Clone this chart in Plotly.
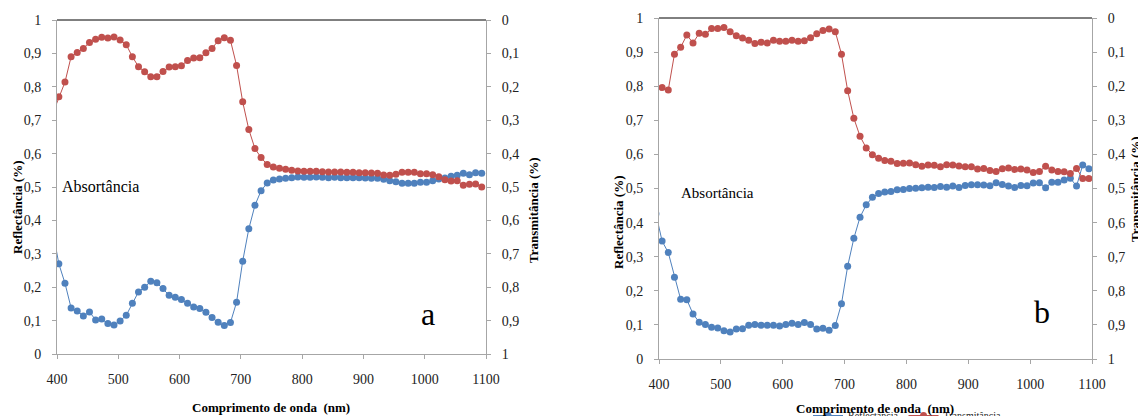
import plotly.graph_objects as go

# ---------------- data ----------------
wl_a = [393, 403, 413, 423, 433, 443, 453, 463, 473, 483, 493, 503, 513, 523, 533, 543, 553, 563,
        573, 583, 593, 603, 613, 623, 633, 643, 653, 663, 673, 683, 693, 703, 713, 723, 733, 743,
        753, 763, 773, 783, 793, 803, 813, 823, 833, 843, 853, 863, 873, 883, 893, 903, 913, 923,
        933, 943, 953, 963, 973, 983, 993, 1003, 1013, 1023, 1033, 1043, 1053, 1063, 1073, 1083, 1093]
refl_a = [0.37, 0.270, 0.212, 0.138, 0.129, 0.114, 0.126, 0.102, 0.105, 0.091, 0.087, 0.099, 0.116,
          0.152, 0.186, 0.200, 0.218, 0.213, 0.196, 0.176, 0.170, 0.163, 0.152, 0.141, 0.136, 0.125,
          0.109, 0.095, 0.085, 0.094, 0.155, 0.278, 0.375, 0.445, 0.489, 0.512, 0.521, 0.524, 0.526,
          0.528, 0.530, 0.529, 0.529, 0.530, 0.529, 0.528, 0.529, 0.528, 0.528, 0.528, 0.528, 0.527,
          0.526, 0.526, 0.523, 0.519, 0.516, 0.511, 0.511, 0.511, 0.514, 0.514, 0.519, 0.524, 0.527,
          0.532, 0.535, 0.541, 0.537, 0.543, 0.541]
trans_a = [0.28, 0.230, 0.186, 0.110, 0.097, 0.085, 0.067, 0.058, 0.052, 0.054, 0.051, 0.060, 0.074,
           0.110, 0.140, 0.155, 0.170, 0.170, 0.154, 0.141, 0.140, 0.137, 0.121, 0.114, 0.113, 0.098,
           0.085, 0.062, 0.053, 0.061, 0.136, 0.245, 0.328, 0.385, 0.412, 0.433, 0.440, 0.444, 0.447,
           0.450, 0.452, 0.453, 0.453, 0.453, 0.454, 0.455, 0.455, 0.455, 0.456, 0.456, 0.457, 0.457,
           0.458, 0.459, 0.464, 0.465, 0.462, 0.456, 0.456, 0.456, 0.460, 0.460, 0.463, 0.469, 0.478,
           0.482, 0.481, 0.495, 0.492, 0.491, 0.500]

wl_b = [395, 405, 415, 425, 435, 445, 455, 465, 475, 485, 495, 505, 515, 525, 535, 545, 555, 565,
        575, 585, 595, 605, 615, 625, 635, 645, 655, 665, 675, 685, 695, 705, 715, 725, 735, 745,
        755, 765, 775, 785, 795, 805, 815, 825, 835, 845, 855, 865, 875, 885, 895, 905, 915, 925,
        935, 945, 955, 965, 975, 985, 995, 1005, 1015, 1025, 1035, 1045, 1055, 1065, 1075, 1085, 1095]
refl_b = [0.426, 0.346, 0.312, 0.240, 0.175, 0.174, 0.132, 0.108, 0.101, 0.093, 0.091, 0.083, 0.079,
          0.088, 0.089, 0.099, 0.101, 0.099, 0.099, 0.099, 0.097, 0.101, 0.105, 0.101, 0.107, 0.101,
          0.088, 0.090, 0.084, 0.098, 0.162, 0.272, 0.354, 0.416, 0.452, 0.474, 0.485, 0.490, 0.491,
          0.496, 0.497, 0.500, 0.501, 0.502, 0.504, 0.503, 0.506, 0.504, 0.507, 0.503, 0.509, 0.511,
          0.511, 0.510, 0.508, 0.517, 0.512, 0.507, 0.503, 0.509, 0.508, 0.516, 0.517, 0.502, 0.518,
          0.518, 0.525, 0.530, 0.507, 0.569, 0.558]
trans_b = [0.204, 0.204, 0.211, 0.106, 0.086, 0.050, 0.073, 0.045, 0.048, 0.031, 0.031, 0.028, 0.040,
           0.052, 0.059, 0.065, 0.075, 0.071, 0.073, 0.065, 0.068, 0.068, 0.065, 0.068, 0.067, 0.058,
           0.046, 0.037, 0.032, 0.040, 0.106, 0.213, 0.294, 0.347, 0.381, 0.401, 0.411, 0.418, 0.420,
           0.427, 0.426, 0.425, 0.430, 0.435, 0.431, 0.432, 0.436, 0.430, 0.431, 0.434, 0.436, 0.436,
           0.443, 0.441, 0.447, 0.450, 0.442, 0.440, 0.444, 0.443, 0.446, 0.453, 0.450, 0.435, 0.446,
           0.450, 0.451, 0.456, 0.441, 0.471, 0.471]

y_ticks = [0, 0.1, 0.2, 0.3, 0.4, 0.5, 0.6, 0.7, 0.8, 0.9, 1]
y_ticktext = ["0", "0,1", "0,2", "0,3", "0,4", "0,5", "0,6", "0,7", "0,8", "0,9", "1"]
x_ticks = [400, 500, 600, 700, 800, 900, 1000, 1100]

BLUE = "#4f81bd"
RED = "#c0504d"
FONT = "Liberation Serif"
AX = "#a6a6a6"
WIN_W, WIN_H = 1146, 416
OFF = 8  # default page body margin
W, H = WIN_W - OFF, WIN_H - OFF


def px_x(p):
    return (p - OFF) / W


def px_y(p):
    return (WIN_H - p) / H


fig = go.Figure()

# panel a
fig.add_trace(go.Scatter(x=wl_a, y=refl_a, mode="lines+markers", name="Reflectância",
                         line=dict(color=BLUE, width=1), marker=dict(color=BLUE, size=7),
                         xaxis="x", yaxis="y", showlegend=False))
fig.add_trace(go.Scatter(x=wl_a, y=trans_a, mode="lines+markers", name="Transmitância",
                         line=dict(color=RED, width=1), marker=dict(color=RED, size=7),
                         xaxis="x", yaxis="y2", showlegend=False))
# panel b
fig.add_trace(go.Scatter(x=wl_b, y=refl_b, mode="lines+markers", name="Reflectância",
                         line=dict(color=BLUE, width=1), marker=dict(color=BLUE, size=7),
                         xaxis="x2", yaxis="y3", showlegend=True))
fig.add_trace(go.Scatter(x=wl_b, y=trans_b, mode="lines+markers", name="Transmitância",
                         line=dict(color=RED, width=1), marker=dict(color=RED, size=7),
                         xaxis="x2", yaxis="y4", showlegend=True))

tickfont = dict(family=FONT, size=14, color="#222")


def xaxis(domain, anchor):
    return dict(domain=domain, anchor=anchor, range=[400, 1100], tickvals=x_ticks,
                showgrid=False, zeroline=False, showline=True, linecolor=AX, linewidth=1,
                ticks="outside", ticklen=4, tickcolor=AX, tickfont=tickfont,
                ticklabelstandoff=8, automargin=False)


def yaxis(domain, anchor, side, rng, overlaying=None):
    d = dict(domain=domain, anchor=anchor, side=side, range=rng, tickvals=y_ticks,
             ticktext=y_ticktext, showgrid=False, zeroline=False, showline=True,
             linecolor=AX, linewidth=1, ticks="outside", ticklen=4, tickcolor=AX,
             tickfont=tickfont, ticklabelstandoff=8, automargin=False)
    if overlaying:
        d["overlaying"] = overlaying
    return d


dom_ax = [px_x(57), px_x(486)]
dom_ay = [px_y(354), px_y(20)]
dom_bx = [px_x(659), px_x(1092)]
dom_by = [px_y(359), px_y(18)]

fig.update_layout(
    width=W, height=H,
    margin=dict(l=0, r=0, t=0, b=0, autoexpand=False),
    paper_bgcolor="white", plot_bgcolor="white",
    xaxis=xaxis(dom_ax, "y"),
    yaxis=yaxis(dom_ay, "x", "left", [0, 1]),
    yaxis2=yaxis(dom_ay, "x", "right", [1, 0], overlaying="y"),
    xaxis2=xaxis(dom_bx, "y3"),
    yaxis3=yaxis(dom_by, "x2", "left", [0, 1]),
    yaxis4=yaxis(dom_by, "x2", "right", [1, 0], overlaying="y3"),
    showlegend=True,
    legend=dict(orientation="h", x=px_x(808), y=px_y(401), xanchor="left", yanchor="top",
                bgcolor="rgba(0,0,0,0)", font=dict(family=FONT, size=10, color="#222"),
                tracegroupgap=0),
)

# top border lines
for (x0, x1, y) in [(dom_ax[0], dom_ax[1], dom_ay[1]), (dom_bx[0], dom_bx[1], dom_by[1])]:
    fig.add_shape(type="line", xref="paper", yref="paper", x0=x0, x1=x1, y0=y, y1=y,
                  line=dict(color="black", width=1))

title_font = dict(family=FONT, size=13, color="black")
ann = [
    # panel a
    dict(text="<b>Reflectância (%)</b>", x=px_x(17), y=px_y(207), textangle=-90),
    dict(text="<b>Transmitância (%)</b>", x=px_x(533), y=px_y(210), textangle=-90),
    dict(text="<b>Comprimento de onda  (nm)</b>", x=px_x(271), y=px_y(407), textangle=0),
    # panel b
    dict(text="<b>Reflectância (%)</b>", x=px_x(618), y=px_y(222), textangle=-90),
    dict(text="<b>Transmitância (%)</b>", x=px_x(1135), y=px_y(189), textangle=-90),
    dict(text="<b>Comprimento de onda  (nm)</b>", x=px_x(875), y=px_y(408), textangle=0),
]
for a in ann:
    fig.add_annotation(xref="paper", yref="paper", showarrow=False, font=title_font,
                       xanchor="center", yanchor="middle", **a)

others = [
    dict(x=px_x(101), y=px_y(186), text="Absortância", size=16),
    dict(x=px_x(717), y=px_y(193), text="Absortância", size=15),
    dict(x=px_x(428), y=px_y(314), text="a", size=32),
    dict(x=px_x(1042), y=px_y(312), text="b", size=32),
]
for o in others:
    fig.add_annotation(xref="paper", yref="paper", x=o["x"], y=o["y"], text=o["text"],
                       showarrow=False, xanchor="center", yanchor="middle",
                       font=dict(family=FONT, size=o["size"], color="black"))

fig.write_html("out.html")
